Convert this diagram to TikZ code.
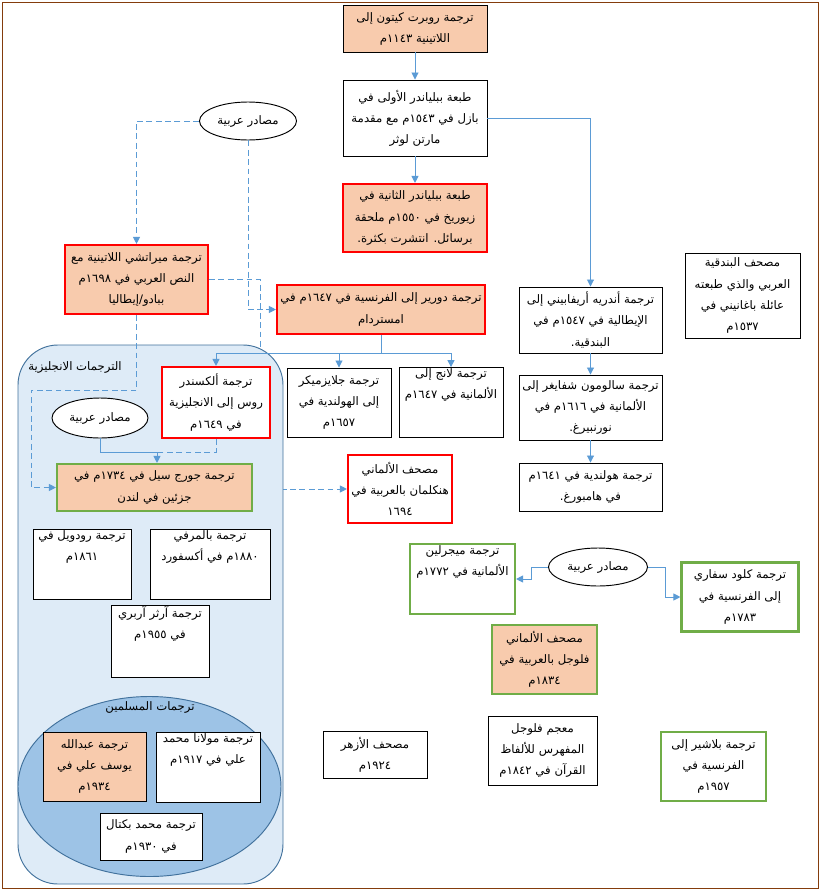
\documentclass[tikz,border=0pt]{standalone}
\usepackage{fontspec}
\newfontfamily\arabicfont[Script=Arabic]{DejaVu Sans}
\TeXXeTstate=1
\usetikzlibrary{shapes.geometric,arrows.meta,positioning}
\definecolor{peach}{HTML}{F8CBAD}
\definecolor{hotred}{HTML}{FF0000}
\definecolor{leaf}{HTML}{70AD47}
\definecolor{wire}{HTML}{5B9BD5}
\definecolor{paleblue}{HTML}{DEEBF7}
\definecolor{midblue}{HTML}{9DC3E6}
\definecolor{edgeblue}{HTML}{41719C}
\definecolor{frame}{HTML}{843C0C}
\newcommand{\ar}[1]{\beginR #1\endR}
\tikzset{>={Triangle[length=6pt,width=6pt]},
  every node/.style={font=\arabicfont\fontsize{10}{18}\selectfont,align=center,inner sep=1pt},
  bx/.style 2 args={draw,line width=0.8pt,minimum width=#1*0.03cm,minimum height=#2*0.03cm},
  wbox/.style 2 args={bx={#1}{#2},fill=white},
  pbox/.style 2 args={bx={#1}{#2},fill=peach},
  rbox/.style 2 args={bx={#1}{#2},fill=white,draw=hotred,line width=1.8pt},
  rpbox/.style 2 args={bx={#1}{#2},fill=peach,draw=hotred,line width=1.8pt},
  gbox/.style 2 args={bx={#1}{#2},fill=white,draw=leaf,line width=1.8pt},
  gpbox/.style 2 args={bx={#1}{#2},fill=peach,draw=leaf,line width=1.8pt},
  src/.style={draw,ellipse,line width=0.8pt,fill=white,minimum width=97*0.03cm,minimum height=38*0.03cm},
  link/.style={->,draw=wire,line width=0.8pt},
  dlink/.style={link,dashed,dash pattern=on 5pt off 3pt}}

\begin{document}
\begin{tikzpicture}[x=0.03cm,y=-0.03cm]
\useasboundingbox (0,0) rectangle (824,892);
\draw[frame,line width=0.8pt] (2,2) rectangle (818,888);

% top chain
\node[pbox={144}{47}] (robert) at (415,28.5) {\ar{ترجمة روبرت كيتون إلى}\\\ar{اللاتينية ١١٤٣م}};
\node[wbox={144}{76}] (bib1) at (415,118) {\ar{طبعة ببلياندر الأولى في}\\\ar{بازل في ١٥٤٣م مع مقدمة}\\\ar{مارتن لوثر}};
\node[rpbox={144}{68}] (bib2) at (415,218) {\ar{طبعة ببلياندر الثانية في}\\\ar{زيوريخ في ١٥٥٠م ملحقة}\\\ar{برسائل. انتشرت بكثرة.}};
\node[src] (srcA) at (248,121) {\ar{مصادر عربية}};
\node[rpbox={143}{69}] (marracci) at (136.5,279.5) {\ar{ترجمة ميراتشي اللاتينية مع}\\\ar{النص العربي في ١٦٩٨م}\\\ar{ببادو/إيطاليا}};
\node[rpbox={208}{49}] (durier) at (381,309.5) {\ar{ترجمة دورير إلى الفرنسية في ١٦٤٧م في}\\\ar{امستردام}};

% right column
\node[wbox={143}{66}] (arriva) at (590.5,320) {\ar{ترجمة أندريه أريفابيني إلى}\\\ar{الإيطالية في ١٥٤٧م في}\\\ar{البندقية.}};
\node[wbox={143}{65}] (schweig) [below of=arriva,node distance=2.625cm] {\ar{ترجمة سالومون شفايغر إلى}\\\ar{الألمانية في ١٦١٦م في}\\\ar{نورنبيرغ.}};
\node[wbox={143}{48}] (dutch) [below of=schweig,node distance=2.385cm] {\ar{ترجمة هولندية في ١٦٤١م}\\\ar{في هامبورغ.}};
\node[wbox={115}{85}] (venice) at (742.5,295.5) {\ar{مصحف البندقية}\\\ar{العربي والذي طبعته}\\\ar{عائلة باغانيني في}\\\ar{١٥٣٧م}};

\node[wbox={104}{69}] (glaze) at (339,402.5) {\ar{ترجمة جلايزميكر}\\\ar{إلى الهولندية في}\\\ar{١٦٥٧م}};
\node[wbox={104}{69}] (lange) at (451,402.5) {\ar{ترجمة لانج إلى}\\\ar{الألمانية في ١٦٤٧م}\\[14pt]};
\node[rbox={104}{68}] (hinck) at (400,489) {\ar{مصحف الألماني}\\\ar{هنكلمان بالعربية في}\\\ar{١٦٩٤}};

% hidden under the english group
\draw[dlink] (marracci.east) -- ++(51,0) |- (hinck.west);

% english group
\draw[edgeblue,fill=paleblue,line width=0.8pt,rounded corners=1.2cm] (18,345) rectangle (283,884);
\node (englbl) at (75,367) {\ar{الترجمات الانجليزية}};
\node[draw=edgeblue,fill=midblue,ellipse,line width=0.8pt,minimum width=263*0.03cm,minimum height=180*0.03cm] (muslim) at (149.5,786.5) {};
\node (muslbl) at (150,707) {\ar{ترجمات المسلمين}};

\node[rbox={108}{71}] (ross) at (216,402.5) {\ar{ترجمة ألكسندر}\\\ar{روس إلى الانجليزية}\\\ar{في ١٦٤٩م}};
\node[src,minimum width=96*0.03cm,minimum height=40*0.03cm] (srcB) at (100,418) {\ar{مصادر عربية}};
\node[gpbox={195}{47}] (sale) at (154.5,487.5) {\ar{ترجمة جورج سيل في ١٧٣٤م في}\\\ar{جزئين في لندن}};
\node[wbox={98}{67}] (rodwell) at (82,564.5) {\ar{ترجمة رودويل في}\\\ar{١٨٦١م}\\[14pt]};
\node[wbox={120}{67}] (palmer) at (210,564.5) {\ar{ترجمة بالمرفي}\\\ar{١٨٨٠م في أكسفورد}\\[14pt]};
\node[wbox={98}{69}] (arberry) at (160,641.5) {\ar{ترجمة آرثر آربري}\\\ar{في ١٩٥٥م}\\[14pt]};
\node[pbox={103}{69}] (yusuf) at (94.5,766.5) {\ar{ترجمة عبدالله}\\\ar{يوسف علي في}\\\ar{١٩٣٤م}};
\node[wbox={104}{69}] (mali) at (208,767.5) {\ar{ترجمة مولانا محمد}\\\ar{علي في ١٩١٧م}\\[14pt]};
\node[wbox={102}{47}] (pick) at (151,836.5) {\ar{ترجمة محمد بكتال}\\\ar{في ١٩٣٠م}};

% lower right
\node[src,minimum width=99*0.03cm] (srcC) at (598,567) {\ar{مصادر عربية}};
\node[gbox={105}{68}] (meger) at (462.5,579) {\ar{ترجمة ميجرلين}\\\ar{الألمانية في ١٧٧٢م}\\[14pt]};
\node[gbox={117}{69}] (savary) at (740,597) {\ar{ترجمة كلود سفاري}\\\ar{إلى الفرنسية في}\\\ar{١٧٨٣م}};
\node[gpbox={105}{69}] (fluegel) at (544.5,659.5) {\ar{مصحف الألماني}\\\ar{فلوجل بالعربية في}\\\ar{١٨٣٤م}};
\node[wbox={104}{47}] (azhar) at (375,754.5) {\ar{مصحف الأزهر}\\\ar{١٩٢٤م}};
\node[wbox={109}{69}] (concord) at (542.5,750.5) {\ar{معجم فلوجل}\\\ar{المفهرس للألفاظ}\\\ar{القرآن في ١٨٤٢م}};
\node[gbox={105}{69}] (blach) at (713.5,766.5) {\ar{ترجمة بلاشير إلى}\\\ar{الفرنسية في}\\\ar{١٩٥٧م}};

% connectors
\draw[link] (robert) -- (bib1);
\draw[link] (bib1) -- (bib2);
\draw[link] (bib1.east) -| (arriva.north);
\draw[link] (arriva) -- (schweig);
\draw[link] (schweig) -- (dutch);
\draw[dlink] (srcA.west) -| (marracci.north);
\draw[dlink] (srcA.south) |- (durier.west);
\draw[dlink] (marracci.south) |- (31,390) |- (sale.west);
\draw[link] (durier.south) -- ++(0,18) -| (ross.north);
\draw[link] (durier.south) -- ++(0,18) -| (glaze.north);
\draw[link] (durier.south) -- ++(0,18) -| (lange.north);
\coordinate (join) at (157,452);
\draw[link,-] (srcB.south) |- (join);
\draw[dlink,-] (ross.south) |- (join);
\draw[link] (join) -- (join |- sale.north);
\draw[link] (srcC.west) -- ++(-17,0) |- (meger.east);
\draw[link] (srcC.east) -- ++(17,0) |- (savary.west);
\end{tikzpicture}
\end{document}
